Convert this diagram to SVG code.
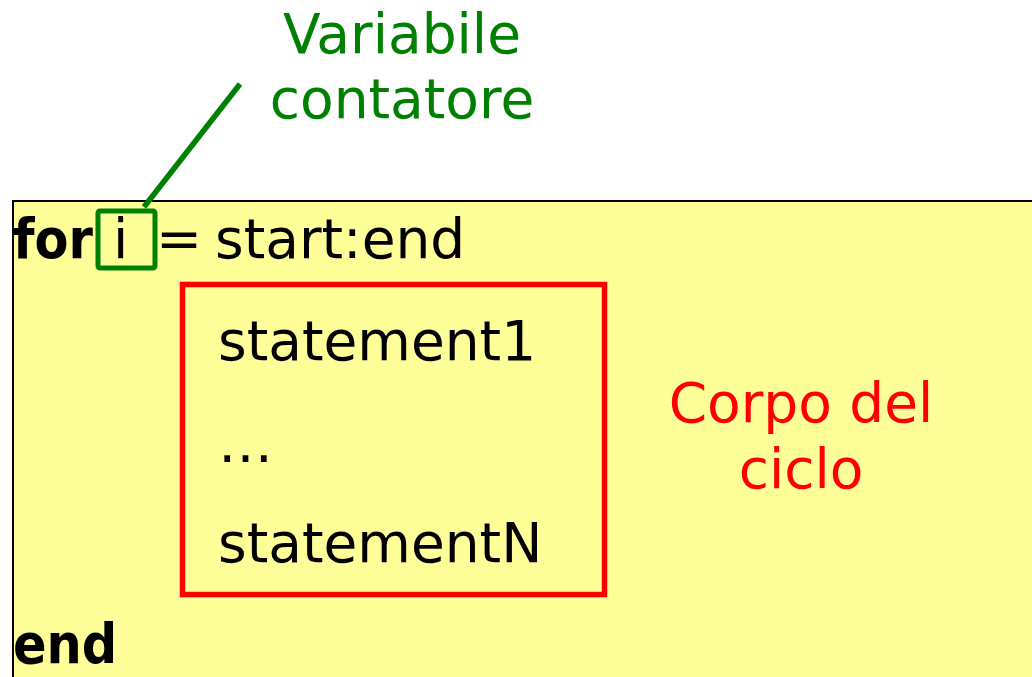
<svg xmlns="http://www.w3.org/2000/svg" width="1032" height="677" viewBox="0 0 1032 677">
<style>
text{font-family:"DejaVu Sans","Verdana",sans-serif;font-size:55px}
.code{fill:#000}
.kw{font-family:"DejaVu Sans Condensed","DejaVu Sans",sans-serif;font-weight:bold}
.green{fill:#008000}
.red{fill:#FF0000}
</style>
<rect width="1032" height="677" fill="#fff"/>
<g id="loop">
<rect x="13" y="201" width="1030" height="490" fill="#FFFF99" stroke="#000" stroke-width="2"/>
<text class="code kw" x="13" y="258">for</text>
<text class="code" x="113" y="258">i</text>
<text class="code" x="156" y="258">=</text>
<text class="code" x="215" y="258">start:end</text>
<text class="code kw" x="13" y="663">end</text>
</g>
<g id="counter-box">
<rect x="98" y="211" width="57" height="57" rx="2" fill="none" stroke="#008000" stroke-width="5"/>
</g>
<g id="body">
<rect x="182.5" y="284.5" width="422" height="310" fill="none" stroke="#FF0000" stroke-width="5.5"/>
<text class="code" x="218" y="360">statement1</text>
<text class="code" x="218" y="462">…</text>
<text class="code" x="218" y="562">statementN</text>
</g>
<g id="label-counter">
<text class="green" x="402" y="53" text-anchor="middle">Variabile</text>
<text class="green" x="402" y="118" text-anchor="middle">contatore</text>
</g>
<g id="label-body">
<text class="red" x="801" y="422" text-anchor="middle">Corpo del</text>
<text class="red" x="801" y="488" text-anchor="middle">ciclo</text>
</g>
<g id="connectors">
<line x1="240" y1="84" x2="144" y2="207" stroke="#008000" stroke-width="5.5"/>
</g>
</svg>
